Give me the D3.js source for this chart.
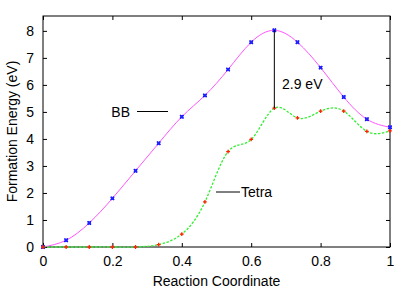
<!DOCTYPE html>
<html>
<head>
<meta charset="utf-8">
<script src="https://cdn.jsdelivr.net/npm/d3@7"></script>
<style>
body { margin: 0; background: #fff; }
text { font-family: "Liberation Sans", Arial, sans-serif; }
</style>
</head>
<body>
<script>
var coord = [0, 1/15, 2/15, 3/15, 4/15, 5/15, 6/15, 7/15, 8/15, 9/15, 10/15, 11/15, 12/15, 13/15, 14/15, 1];
var bb =    [0, 0.25, 0.89, 1.8, 2.82, 3.84, 4.82, 5.61, 6.57, 7.58, 8.02, 7.58, 6.64, 5.55, 4.73, 4.43];
var tetra = [0, 0, 0, 0, 0, 0.09, 0.48, 1.67, 3.53, 3.98, 5.14, 4.78, 5.03, 5.03, 4.28, 4.3];
var xTicks = [0, 0.2, 0.4, 0.6, 0.8, 1];
var yTicks = [0, 1, 2, 3, 4, 5, 6, 7, 8];

var width = 415, height = 291;
var margin = {top: 16, right: 25, bottom: 44, left: 43};

var svg = d3.select("body").append("svg")
    .attr("width", width)
    .attr("height", height);

var x = d3.scaleLinear().domain([0, 1]).range([margin.left, width - margin.right]);
var y = d3.scaleLinear().domain([0, 8.55]).range([height - margin.bottom, margin.top]);

// axes with inward ticks, mirrored on top/right
svg.append("g")
    .attr("transform", "translate(0," + y(0) + ")")
    .call(d3.axisBottom(x).tickValues(xTicks).tickSizeInner(-4).tickSizeOuter(0).tickPadding(9)
        .tickFormat(function (d) { return d3.format("")(d); }))
    .call(function (g) { g.select(".domain").remove(); });
svg.append("g")
    .attr("transform", "translate(0," + margin.top + ")")
    .call(d3.axisTop(x).tickValues(xTicks).tickSizeInner(-4).tickSizeOuter(0).tickFormat(""))
    .call(function (g) { g.select(".domain").remove(); });
svg.append("g")
    .attr("transform", "translate(" + x(0) + ",0)")
    .call(d3.axisLeft(y).tickValues(yTicks).tickSizeInner(-4).tickSizeOuter(0).tickPadding(9))
    .call(function (g) { g.select(".domain").remove(); });
svg.append("g")
    .attr("transform", "translate(" + x(1) + ",0)")
    .call(d3.axisRight(y).tickValues(yTicks).tickSizeInner(-4).tickSizeOuter(0).tickFormat(""))
    .call(function (g) { g.select(".domain").remove(); });

svg.selectAll(".tick text").attr("font-size", 14).attr("fill", "#000")
    .attr("font-family", "Liberation Sans, Arial, sans-serif");
svg.selectAll(".tick line").attr("stroke", "#000");

// frame
svg.append("rect")
    .attr("x", x(0)).attr("y", y.range()[1])
    .attr("width", x(1) - x(0)).attr("height", y(0) - y.range()[1])
    .attr("fill", "none").attr("stroke", "#000").attr("stroke-width", 1);

var bbData = coord.map(function (c, i) { return [c, bb[i]]; });
var tetraData = coord.map(function (c, i) { return [c, tetra[i]]; });

var line = d3.line()
    .x(function (d) { return x(d[0]); })
    .y(function (d) { return y(d[1]); })
    .curve(d3.curveNatural);

svg.append("path").datum(bbData)
    .attr("d", line)
    .attr("fill", "none").attr("stroke", "#ff55ff").attr("stroke-width", 1);

svg.append("path").datum(tetraData)
    .attr("d", line)
    .attr("fill", "none").attr("stroke", "#33ee33").attr("stroke-width", 1.3)
    .attr("stroke-dasharray", "2.5,1.5");

// markers
var cross = d3.symbol().type(d3.symbolX).size(9);
var plus = d3.symbol().type(d3.symbolCross).size(8);
var bbMarks = svg.selectAll(".bb").data(bbData).enter().append("g")
    .attr("class", "bb")
    .attr("transform", function (d) { return "translate(" + x(d[0]) + "," + y(d[1]) + ")"; });
bbMarks.append("path").attr("d", cross)
    .attr("stroke", "#0000ff").attr("stroke-width", 1.5).attr("fill", "none");
bbMarks.append("rect").attr("x", -1.5).attr("y", -1.5).attr("width", 3).attr("height", 3)
    .attr("fill", "#2222ff");

svg.selectAll(".tetra").data(tetraData).enter().append("path")
    .attr("class", "tetra")
    .attr("d", plus)
    .attr("transform", function (d) { return "translate(" + x(d[0]) + "," + y(d[1]) + ")"; })
    .attr("fill", "#ff2200");

// 2.9 eV gap
svg.append("line")
    .attr("x1", x(coord[10])).attr("x2", x(coord[10]))
    .attr("y1", y(bb[10])).attr("y2", y(tetra[10]))
    .attr("stroke", "#000").attr("stroke-width", 1);
svg.append("text")
    .attr("x", 282).attr("y", 89)
    .attr("font-size", 14)
    .text("2.9 eV");

// series labels
svg.append("text").attr("x", 130).attr("y", 116.5).attr("text-anchor", "end")
    .attr("font-size", 14).text("BB");
svg.append("line").attr("x1", 137).attr("x2", 168).attr("y1", 111.5).attr("y2", 111.5)
    .attr("stroke", "#000").attr("stroke-width", 1);
svg.append("text").attr("x", 241).attr("y", 197)
    .attr("font-size", 14).text("Tetra");
svg.append("line").attr("x1", 216).attr("x2", 240).attr("y1", 192).attr("y2", 192)
    .attr("stroke", "#000").attr("stroke-width", 1);

// axis titles
svg.append("text")
    .attr("x", (x(0) + x(1)) / 2).attr("y", 286)
    .attr("text-anchor", "middle").attr("font-size", 14)
    .text("Reaction Coordinate");
svg.append("text")
    .attr("transform", "translate(17," + ((y(0) + y.range()[1]) / 2) + ") rotate(-90)")
    .attr("text-anchor", "middle").attr("font-size", 14)
    .text("Formation Energy (eV)");
</script>
</body>
</html>
